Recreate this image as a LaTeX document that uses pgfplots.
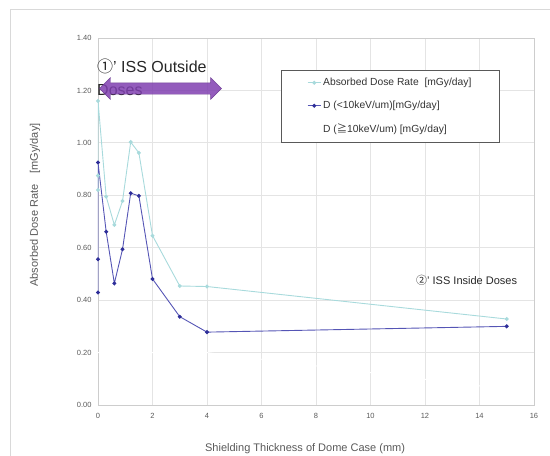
\documentclass[border=0pt]{standalone}
\usepackage{fontspec}
\setmainfont{Liberation Sans}
\newfontfamily\cjk{Noto Sans CJK JP}
\usepackage{pgfplots}
\pgfplotsset{compat=1.18}
\usetikzlibrary{shapes.arrows}
\definecolor{lightc}{RGB}{168,218,220}
\definecolor{darkl}{RGB}{85,85,181}
\definecolor{darkm}{RGB}{46,46,153}
\definecolor{arrowc}{RGB}{128,64,176}
\definecolor{tickc}{RGB}{89,89,89}
\definecolor{gridc}{RGB}{228,228,228}
\begin{document}
\begin{tikzpicture}
\path[use as bounding box] (0pt,0pt) rectangle (550pt,-456pt);
\draw[color=gray!30, line width=0.8pt] (10pt,-456pt) -- (10pt,-9pt) -- (550pt,-9pt);
\begin{axis}[
  at={(98pt,-405pt)}, anchor=south west,
  scale only axis, width=436pt, height=367pt,
  xmin=0, xmax=16, ymin=0, ymax=1.4,
  xtick={0,2,4,6,8,10,12,14,16},
  ytick={0,0.2,0.4,0.6,0.8,1.0,1.2,1.4},
  grid=major, major grid style={gridc, line width=0.8pt},
  axis line style={gridc!90!black, line width=0.8pt},
  major tick length=0pt,
  tick label style={font=\fontsize{7.5}{9}\selectfont, text=tickc},
  /pgf/number format/assume math mode=true,
  yticklabel style={/pgf/number format/fixed, /pgf/number format/fixed zerofill, /pgf/number format/precision=2, xshift=-3pt},
  xticklabel style={yshift=-4.5pt},
  label style={font=\fontsize{11}{13}\selectfont, text=tickc},
  ylabel={Absorbed Dose Rate\quad [mGy/day]},
  ylabel style={at={(axis description cs:-0.1445,0.545)}, anchor=center},
  xlabel={Shielding Thickness of Dome Case (mm)},
  xlabel style={at={(axis description cs:0.475,-0.128)}, anchor=base},
  legend style={at={(axis description cs:0.4197,0.9128)}, anchor=north west,
    draw=black!65, line width=0.6pt, font=\fontsize{10.3}{12}\selectfont, text=black!80,
    inner xsep=26pt, inner ysep=6pt, row sep=10pt},
  legend cell align=left,
  legend image code/.code={\draw[mark repeat=2,mark phase=2,#1] plot coordinates {(0pt,0pt) (6.5pt,0pt) (13pt,0pt)};},
]
\addplot[color=lightc, line width=0.9pt, mark=*, mark size=1.5pt, mark options={fill=lightc, draw=lightc}]
  coordinates {(0,0.82)(0,0.875)(0,1.16)(0.3,0.795)(0.6,0.687)(0.9,0.778)(1.2,1.003)(1.5,0.962)(2,0.646)(3,0.454)(4,0.452)(15,0.328)};
\addlegendentry{Absorbed Dose Rate\ \ [mGy/day]}
\addplot[color=darkl, line width=0.9pt, mark=*, mark size=1.5pt, mark options={fill=darkm, draw=darkm}]
  coordinates {(0,0.429)(0,0.556)(0,0.925)(0.3,0.661)(0.6,0.464)(0.9,0.594)(1.2,0.808)(1.5,0.798)(2,0.481)(3,0.337)(4,0.278)(15,0.300)};
\addlegendentry{D (<10keV/um)[mGy/day]}
\addplot[color=white, line width=0.9pt]
  coordinates {(0,0.20)(0.3,0.20)(0.6,0.20)(0.9,0.20)(1.2,0.20)(1.5,0.20)(2,0.20)(3,0.20)(4,0.20)(15,0.06)};
\addlegendentry{D ({\cjk ≧}10keV/um) [mGy/day]}
\end{axis}
\node[anchor=base west, font=\fontsize{16}{18}\selectfont, text=black!85, inner sep=0pt] at (97pt,-72pt) {{\cjk ①}’ ISS Outside};
\node[anchor=base west, font=\fontsize{16}{18}\selectfont, text=black!85, inner sep=0pt] at (97pt,-95pt) {Doses};
\node[double arrow, fill=arrowc, fill opacity=0.85, draw=arrowc!80!black, draw opacity=0.85,
  minimum height=122pt, minimum width=21.5pt, inner sep=5.5pt,
  double arrow head extend=5.25pt, anchor=center] at (160.5pt,-88.5pt) {};
\node[anchor=base west, font=\fontsize{11}{13}\selectfont, text=black!85, inner sep=0pt] at (416pt,-284pt) {{\cjk ②}’ ISS Inside Doses};
\end{tikzpicture}
\end{document}
